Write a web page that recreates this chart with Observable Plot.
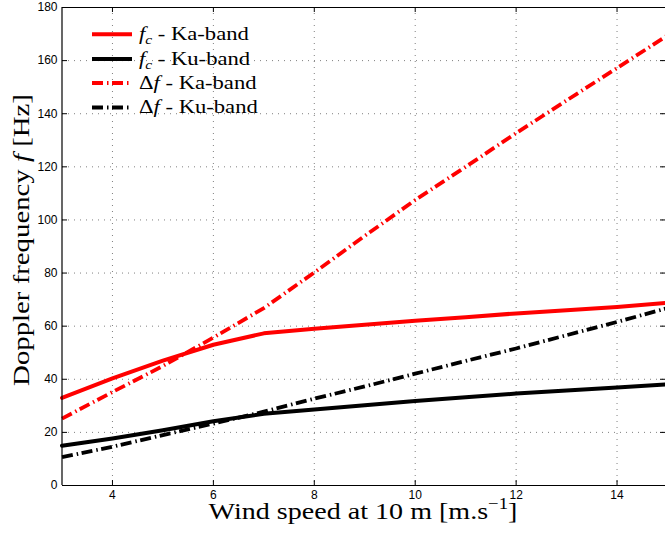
<!DOCTYPE html>
<html>
<head>
<meta charset="utf-8">
<script src="https://cdn.jsdelivr.net/npm/d3@7"></script>
<script src="https://cdn.jsdelivr.net/npm/@observablehq/plot@0.6"></script>
<style>
  html, body { margin: 0; padding: 0; background: #fff; }
  svg { display: block; }
</style>
</head>
<body>
<script>
// ---- data ----
const windSpeed = [3, 4, 5, 6, 7, 8, 9, 10, 11, 12, 13, 14, 15];
const fcKa = [33, 40.3, 47, 53, 57.3, 59, 60.5, 62, 63.4, 64.8, 66, 67.2, 68.8];
const fcKu = [15, 17.7, 20.8, 24.2, 27, 28.6, 30.2, 31.8, 33.2, 34.6, 35.8, 36.9, 38.1];
const dfKa = [25.2, 35.2, 45, 55.7, 66.8, 80.2, 94, 107.5, 120, 132.7, 145, 157.2, 169.5];
const dfKu = [10.7, 14.6, 19, 23.3, 27.8, 32.7, 37.3, 42.1, 46.9, 51.6, 56.6, 61.6, 66.8];
const xTicks = [4, 6, 8, 10, 12, 14];
const yTicks = [0, 20, 40, 60, 80, 100, 120, 140, 160, 180];

const toRows = (vals) => windSpeed.map((x, i) => ({x, y: vals[i]}));

const W = 665, H = 534, mL = 62, mR = 0, mT = 7, mB = 49;
const innerW = W - mL - mR, innerH = H - mT - mB;
const tickLen = 5;
const gridStyle = {stroke: "#000", strokeOpacity: 0.5, strokeWidth: 1, strokeDasharray: "1,5"};
const dashDot = "11,4,1.5,3.5";

const svg = Plot.plot({
  width: W, height: H,
  marginLeft: mL, marginRight: mR, marginTop: mT, marginBottom: mB,
  x: {domain: [3, 15], range: [61.5, 667]},
  y: {domain: [0, 180], range: [485, 7]},
  style: {fontFamily: "'Liberation Sans', Arial, Helvetica, sans-serif", fontSize: "12px", background: "#fff", color: "#000", overflow: "hidden"},
  marks: [
    Plot.gridX(xTicks, gridStyle),
    Plot.gridY(yTicks.slice(1, -1), gridStyle),
    Plot.line(toRows(fcKu), {x: "x", y: "y", stroke: "#000", strokeWidth: 4, strokeLinejoin: "round"}),
    Plot.line(toRows(dfKu), {x: "x", y: "y", stroke: "#000", strokeWidth: 3.8, strokeDasharray: dashDot, strokeLinecap: "butt"}),
    Plot.line(toRows(dfKa), {x: "x", y: "y", stroke: "#ff0000", strokeWidth: 3.8, strokeDasharray: dashDot, strokeLinecap: "butt"}),
    Plot.line(toRows(fcKa), {x: "x", y: "y", stroke: "#ff0000", strokeWidth: 4, strokeLinejoin: "round"}),
    // frame
    Plot.ruleY([0, 180], {stroke: "#000", strokeWidth: 1.2}),
    Plot.ruleX([3, 15], {stroke: "#000", strokeWidth: 1.2}),
    // inward ticks on all four sides
    Plot.tickX(xTicks, {x: d => d, insetTop: innerH - tickLen, stroke: "#000"}),
    Plot.tickX(xTicks, {x: d => d, insetBottom: innerH - tickLen, stroke: "#000"}),
    Plot.tickY(yTicks, {y: d => d, insetRight: innerW - tickLen, stroke: "#000"}),
    Plot.tickY(yTicks, {y: d => d, insetLeft: innerW - tickLen, stroke: "#000"}),
    Plot.axisX({ticks: xTicks, tickSize: 0, tickPadding: 5, label: null}),
    Plot.axisY({ticks: yTicks, tickSize: 0, tickPadding: 5, label: null})
  ]
});

const s = d3.select(svg);
const serif = "'Liberation Serif', 'Times New Roman', Times, serif";

// x label
const xl = s.append("text")
  .attr("transform", "translate(363,519) scale(1.17,1)")
  .attr("text-anchor", "middle")
  .attr("font-family", serif).attr("font-size", 24).attr("fill", "#000");
xl.append("tspan").text("Wind speed at 10 m [m.s");
xl.append("tspan").attr("font-size", 16).attr("dy", -10).text("\u22121");
xl.append("tspan").attr("dy", 10).text("]");

// y label
const yl = s.append("text")
  .attr("transform", "translate(29,240) rotate(-90) scale(1.2,1)")
  .attr("text-anchor", "middle")
  .attr("font-family", serif).attr("font-size", 24).attr("fill", "#000");
yl.append("tspan").text("Doppler frequency ");
yl.append("tspan").attr("font-style", "italic").text("f");
yl.append("tspan").text(" [Hz]");

// legend
const legendItems = [
  {color: "#ff0000", dash: null, kind: "fc", band: "Ka-band"},
  {color: "#000", dash: null, kind: "fc", band: "Ku-band"},
  {color: "#ff0000", dash: dashDot, kind: "df", band: "Ka-band"},
  {color: "#000", dash: dashDot, kind: "df", band: "Ku-band"}
];
const rowY = [34.3, 59, 83, 107.5];
const lg = s.append("g").attr("text-anchor", "start");
legendItems.forEach((it, i) => {
  const y = rowY[i];
  const ln = lg.append("line")
    .attr("x1", 92).attr("x2", 132).attr("y1", y).attr("y2", y)
    .attr("stroke", it.color).attr("stroke-width", it.dash ? 3.8 : 4);
  if (it.dash) ln.attr("stroke-dasharray", dashDot);
  const t = lg.append("text")
    .attr("transform", `translate(139,${y + 5.5}) scale(1.19,1)`)
    .attr("text-anchor", "start")
    .attr("font-family", serif).attr("font-size", 19).attr("fill", "#000");
  if (it.kind === "fc") {
    t.append("tspan").attr("font-style", "italic").text("f");
    t.append("tspan").attr("font-style", "italic").attr("font-size", 13).attr("dy", 4).text("c");
    t.append("tspan").attr("dy", -4).text(" - " + it.band);
  } else {
    t.append("tspan").text("\u0394");
    t.append("tspan").attr("font-style", "italic").text("f");
    t.append("tspan").text(" - " + it.band);
  }
});

document.body.appendChild(svg);
</script>
</body>
</html>
